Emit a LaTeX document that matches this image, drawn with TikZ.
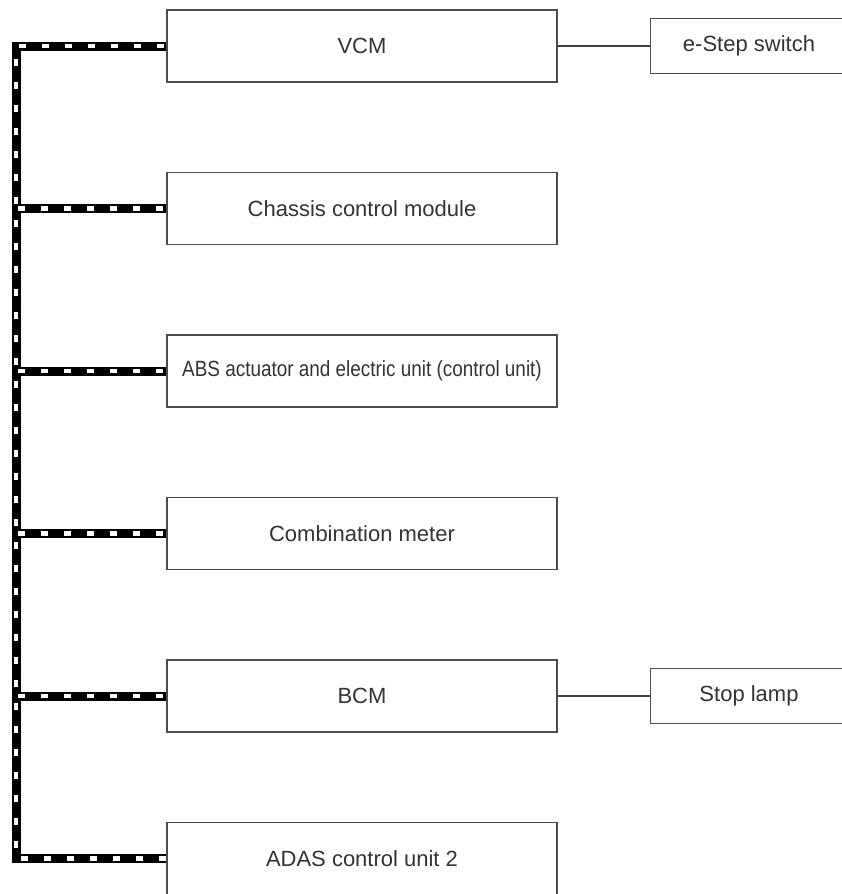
\documentclass[tikz,border=0pt]{standalone}
\usepackage{fontspec}
\setmainfont{Liberation Sans}
\usepackage{graphicx}
\usetikzlibrary{positioning}

\tikzset{
  ecu/.style={draw=black!70, line width=1.5pt, minimum width=390pt, minimum height=72pt,
    inner sep=0pt, text=black!80, font=\fontsize{22}{26}\selectfont},
  sensor/.style={ecu, minimum width=197pt, minimum height=55pt},
  bus/.style={line width=4.5pt, white, dash pattern=on 7pt off 16pt, dash phase=-2pt,
    preaction={draw=black, line width=9pt, solid}},
  wire/.style={draw=black!75, line width=1.2pt}
}

\begin{document}
\begin{tikzpicture}[x=1pt, y=-1pt, node distance=89pt]

  \useasboundingbox (0,0) rectangle (842,894);

  \node (VCM) [ecu] at (362,46) {VCM};
  \node (CCM) [ecu, below=of VCM] {Chassis control module};
  \node (ABS) [ecu, below=of CCM] {\scalebox{0.86}[1]{ABS actuator and electric unit (control unit)}};
  \node (Meter) [ecu, below=of ABS] {Combination meter};
  \node (BCM) [ecu, below=of Meter] {BCM};
  \node (ADAS) [ecu, below=of BCM] {ADAS control unit 2};

  \node (EStep) [sensor, right=92pt of VCM] {e-Step switch};
  \node (StopLamp) [sensor, right=92pt of BCM] {Stop lamp};

  \coordinate (BusTop) at (16,46);
  \coordinate (BusBot) at (BusTop |- ADAS.west);

  \draw [bus] (VCM.west) -- (BusTop) -- (BusBot) -- (ADAS.west);
  \draw [bus] (BusTop |- CCM.west) -- (CCM.west);
  \draw [bus] (BusTop |- ABS.west) -- (ABS.west);
  \draw [bus] (BusTop |- Meter.west) -- (Meter.west);
  \draw [bus] (BusTop |- BCM.west) -- (BCM.west);

  \draw [wire] (VCM.east) -- (EStep.west);
  \draw [wire] (BCM.east) -- (StopLamp.west);

\end{tikzpicture}
\end{document}
